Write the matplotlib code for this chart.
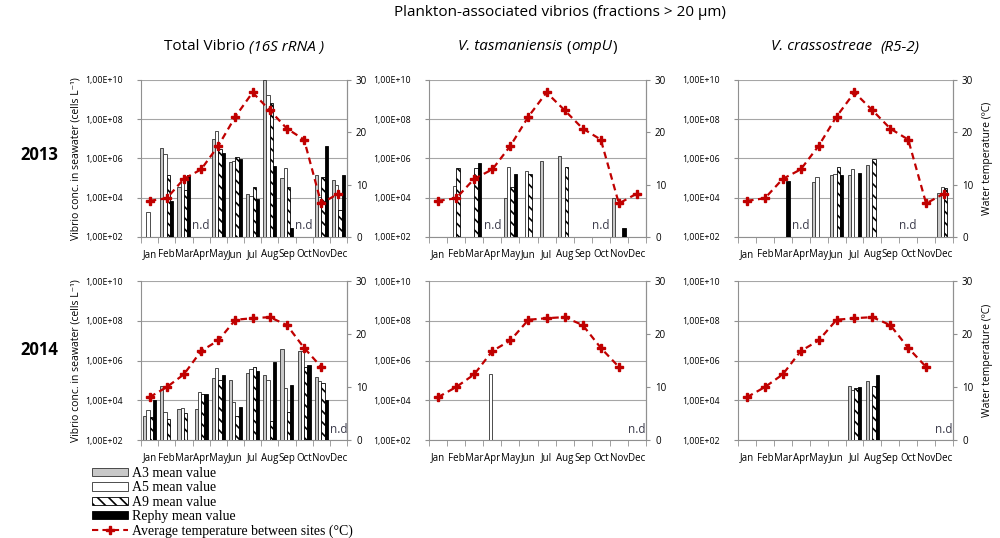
import numpy as np
import matplotlib
matplotlib.use("Agg")
import matplotlib.pyplot as plt
from matplotlib.patches import Patch
from matplotlib.lines import Line2D
from matplotlib.ticker import FixedLocator, FuncFormatter

plt.rcParams['font.family'] = ['Open Sans', 'DejaVu Sans']
plt.rcParams['hatch.linewidth'] = 1.2

N = np.nan
months = ['Jan', 'Feb', 'Mar', 'Apr', 'May', 'Jun', 'Jul', 'Aug', 'Sep', 'Oct', 'Nov', 'Dec']

# average temperature between sites (°C)
temp_2013 = [6.9, 7.4, 11.1, 12.9, 17.4, 23.0, 27.6, 24.2, 20.7, 18.6, 6.4, 8.3]
temp_2014 = [8.1, 10.0, 12.4, 16.8, 18.8, 22.7, 23.0, 23.2, 21.7, 17.4, 13.8, N]

# Total Vibrio (16S rRNA), cells/L
tot13_a3 = [N, 3.4e6, 3.7e4, N, 9.6e6, 6.9e5, 1.6e4, 1.0e10, 1.05e5, N, 1.4e5, 7.8e4]
tot13_a5 = [1.8e3, 1.7e6, 8.0e4, N, 2.5e7, 7.8e5, 1.26e4, 1.8e9, 3.3e5, N, 1.07e4, 4.3e4]
tot13_a9 = [N, 1.5e5, 2.5e4, N, 3.2e6, 1.15e6, 3.5e4, 6.3e8, 3.5e4, N, 1.2e5, 2.4e3]
tot13_re = [N, 7.0e3, 1.4e5, N, 2.0e6, 9.5e5, 9.0e3, 4.0e5, 2.8e2, N, 4.2e6, 1.5e5]

tot14_a3 = [1.55e3, 5.5e4, 3.6e3, 3.6e3, 1.4e5, 1.1e5, 2.4e5, 1.95e5, 3.9e6, 3.2e6, 1.55e5, N]
tot14_a5 = [3.4e3, 2.7e3, 4.1e3, 2.5e4, 4.1e5, 8.5e3, 3.8e5, 1.1e5, 4.2e4, 3.2e6, 9.1e4, N]
tot14_a9 = [1.5e3, 1.15e3, 2.2e3, 2.1e4, 1.1e5, 1.7e3, 4.6e5, 8.7e2, 2.7e3, 4.6e5, 7.4e4, N]
tot14_re = [1.05e4, N, N, 2.2e4, 1.95e5, 4.8e3, 3.0e5, 8.3e5, 5.9e4, 6.0e5, 1.05e4, N]

# V. tasmaniensis (ompU)
tas13_a3 = [N, N, N, N, 1.0e4, N, 7.4e5, 1.3e6, N, N, 1.0e4, N]
tas13_a5 = [N, 3.8e4, N, N, 3.5e5, 2.2e5, N, N, N, N, N, N]
tas13_a9 = [N, 3.2e5, 3.2e5, N, 3.4e4, 1.6e5, N, 3.5e5, N, N, N, N]
tas13_re = [N, N, 6.0e5, N, 1.6e5, N, N, N, N, N, 3.0e2, N]

tas14_a3 = [N] * 12
tas14_a5 = [N, N, N, 2.0e5, N, N, N, N, N, N, N, N]
tas14_a9 = [N] * 12
tas14_re = [N] * 12

# V. crassostreae (R5-2)
cra13_a3 = [N, N, N, N, 6.0e4, 1.5e5, 1.5e5, 4.6e5, N, N, N, 1.7e4]
cra13_a5 = [N, N, N, N, 1.2e5, 1.7e5, 2.75e5, N, N, N, N, 3.7e4]
cra13_a9 = [N, N, N, N, N, 3.8e5, N, 9.0e5, N, N, N, 3.0e4]
cra13_re = [N, N, 6.8e4, N, N, 1.4e5, 1.8e5, N, N, N, N, N]

cra14_a3 = [N, N, N, N, N, N, 5.0e4, 9.1e4, N, N, N, N]
cra14_a5 = [N, N, N, N, N, N, 3.4e4, N, N, N, N, N]
cra14_a9 = [N, N, N, N, N, N, 4.0e4, 5.0e4, N, N, N, N]
cra14_re = [N, N, N, N, N, N, 4.5e4, 1.8e5, N, N, N, N]

nd_2013 = ['Apr', 'Oct']
nd_2014 = ['Dec']

series_labels = ['A3 mean value', 'A5 mean value', 'A9 mean value', 'Rephy mean value']
temp_label = 'Average temperature between sites (°C)'
# title pieces: (text, italic, gap before in px)
col_titles = [
    [('Total Vibrio', False, 0), ('(16S rRNA )', True, 4)],
    [('V. tasmaniensis', True, 0), ('(', False, 4), ('ompU', True, 0), (')', False, 0)],
    [('V. crassostreae', True, 0), ('(R5-2)', True, 8)],
]

styles = [dict(facecolor='#c8c8c8', edgecolor='#303030', hatch=None),
          dict(facecolor='white', edgecolor='#303030', hatch=None),
          dict(facecolor='white', edgecolor='black', hatch='\\\\\\'),
          dict(facecolor='black', edgecolor='black', hatch=None)]
red = '#c00000'

panels = [
    [(tot13_a3, tot13_a5, tot13_a9, tot13_re), (tas13_a3, tas13_a5, tas13_a9, tas13_re),
     (cra13_a3, cra13_a5, cra13_a9, cra13_re)],
    [(tot14_a3, tot14_a5, tot14_a9, tot14_re), (tas14_a3, tas14_a5, tas14_a9, tas14_re),
     (cra14_a3, cra14_a5, cra14_a9, cra14_re)],
]
temps = [temp_2013, temp_2014]
nds = [nd_2013, nd_2014]
years = ['2013', '2014']
year_y = [155, 350]

fig = plt.figure(figsize=(10, 5.38), dpi=100)
renderer = fig.canvas.get_renderer()


def rich_text(xc, y, pieces, size):
    # place text pieces side by side, centred on xc (figure px)
    texts, total = [], 0
    for s, it, gap in pieces:
        t = fig.text(0, y, s, fontsize=size, style='italic' if it else 'normal',
                     va='center', ha='left', transform=None)
        w = t.get_window_extent(renderer).width
        texts.append((t, gap, w))
        total += gap + w
    xpos = xc - total / 2
    for t, gap, w in texts:
        xpos += gap
        t.set_x(xpos)
        xpos += w


lefts = [0.141, 0.429, 0.738]
widths = [0.206, 0.217, 0.215]
bottoms = [0.5595, 0.182]
heights = [0.292, 0.2955]

x = np.arange(12)
bw = 0.19

for r in range(2):
    for c in range(3):
        ax = fig.add_axes([lefts[c], bottoms[r], widths[c], heights[r]])
        ax.set_yscale('log')
        ax.set_ylim(1e2, 1e10)
        ax.set_xlim(-0.5, 11.5)
        for k, vals in enumerate(panels[r][c]):
            v = np.array(vals, dtype=float)
            ax.bar(x + (k - 1.5) * bw, v - 1e2, bottom=1e2, width=bw,
                   linewidth=0.6, zorder=3, **styles[k])
        ax.yaxis.set_major_locator(FixedLocator([1e2, 1e4, 1e6, 1e8, 1e10]))
        ax.yaxis.set_minor_locator(FixedLocator([]))
        ax.yaxis.set_major_formatter(FuncFormatter(
            lambda v, _: '1,00E+%02d' % int(round(np.log10(v)))))
        ax.grid(axis='y', color='#a6a6a6', linewidth=0.8, zorder=0)
        ax.set_xticks(x)
        ax.set_xticklabels(months)
        ax.set_xticks(np.arange(-0.5, 12, 1), minor=True)
        ax.tick_params(axis='x', which='major', length=0, labelsize=7, pad=9)
        ax.tick_params(axis='x', which='minor', length=4, color='#909090')
        ax.tick_params(axis='y', length=3, color='#909090', labelsize=6.3, pad=10)
        ax.spines['top'].set_visible(False)
        for s in ['left', 'bottom', 'right']:
            ax.spines[s].set_color('#909090')

        for m in nds[r]:
            i = months.index(m)
            yv = 370 if r == 0 else 330
            ax.text(i, yv, 'n.d', ha='center', va='center', fontsize=8.5,
                    color='#3a3a4a', zorder=5)

        ax2 = ax.twinx()
        ax2.set_ylim(0, 30)
        ax2.set_yticks([0, 10, 20, 30])
        ax2.tick_params(axis='y', length=3, color='#909090', labelsize=7)
        for s in ['top', 'left', 'bottom']:
            ax2.spines[s].set_visible(False)
        ax2.spines['right'].set_color('#909090')
        ax2.plot(x, temps[r], color=red, linestyle='--', linewidth=1.6,
                 marker='P', markersize=6, markerfacecolor=red,
                 markeredgecolor=red, zorder=6, dashes=(3, 2))

        if c == 0:
            ax.set_ylabel('Vibrio conc. in seawater (cells L⁻¹)', fontsize=7.5,
                          labelpad=3)
        if c == 2:
            ax2.set_ylabel('Water temperature (ºC)', fontsize=7.5, labelpad=6)
        if r == 0:
            xc = (lefts[c] + widths[c] / 2) * 1000
            rich_text(xc, 538 - 47, col_titles[c], 11)

    fig.text(0.039, 1 - year_y[r] / 538, years[r], ha='center',
             va='center', fontsize=12, fontweight='bold')

fig.text(0.56, 1 - 12 / 538, 'Plankton-associated vibrios (fractions > 20 µm)',
         ha='center', va='center', fontsize=11)

handles = [Patch(linewidth=0.6, **styles[k]) for k in range(4)]
handles.append(Line2D([], [], color=red, linestyle='--', marker='P',
                      markersize=6, linewidth=1.5, dashes=(3, 2)))
fig.legend(handles, series_labels + [temp_label], loc='upper left',
           bbox_to_anchor=(0.092, 0.132), frameon=False, handlelength=2.6,
           handleheight=0.55, labelspacing=0.1, handletextpad=0.3,
           borderaxespad=0, borderpad=0,
           prop={'family': 'Liberation Serif', 'size': 10})

fig.savefig('out.png', dpi=100)
